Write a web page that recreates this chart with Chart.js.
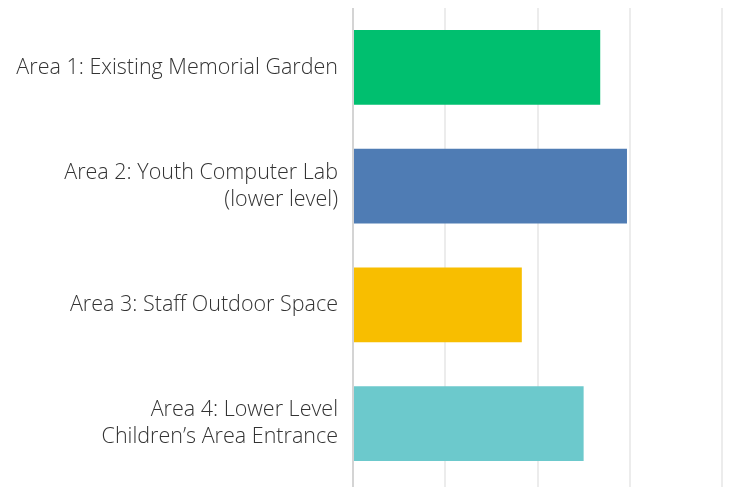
<!DOCTYPE html>
<html>
<head>
<meta charset="utf-8">
<script src="https://cdn.jsdelivr.net/npm/chart.js@4/dist/chart.umd.min.js"></script>
<style>
    html, body { margin: 0; padding: 0; background: #ffffff; }
    #wrap { width: 745px; height: 487px; }
</style>
</head>
<body>
<div id="wrap"><canvas id="areaChart"></canvas></div>
<script>
// Areas (categories), top to bottom
const areaLabels = [
    'Area 1: Existing Memorial Garden',
    ['Area 2: Youth Computer Lab', '(lower level)'],
    'Area 3: Staff Outdoor Space',
    ['Area 4: Lower Level', 'Children\u2019s Area Entrance']
];

// Bar values
const areaValues = [2.68, 2.97, 1.83, 2.5];

const barColors = ['#00bf6f', '#4f7cb4', '#f8be00', '#6cc9cc'];

// x scale
const xMin = 0;
const xMax = 4;
const xStep = 1;

const ctx = document.getElementById('areaChart');

new Chart(ctx, {
    type: 'bar',
    data: {
        labels: areaLabels,
        datasets: [{
            data: areaValues,
            backgroundColor: barColors,
            borderWidth: 0,
            barPercentage: 0.63,
            categoryPercentage: 1
        }]
    },
    options: {
        indexAxis: 'y',
        responsive: true,
        maintainAspectRatio: false,
        animation: false,
        layout: {
            padding: { top: 8, right: 23, left: 0, bottom: 0 }
        },
        plugins: {
            legend: { display: false },
            tooltip: { enabled: false }
        },
        scales: {
            x: {
                min: xMin,
                max: xMax,
                ticks: { display: false, stepSize: xStep },
                border: { display: false },
                grid: {
                    color: function(c) {
                        return c.index === 0 ? '#d4d4d4' : '#ececec';
                    },
                    lineWidth: 2,
                    drawTicks: true,
                    tickLength: 4
                }
            },
            y: {
                grid: { display: false },
                border: { display: false },
                ticks: {
                    color: '#333333',
                    padding: 7,
                    font: { family: '"Open Sans"', size: 21.5, weight: '300', lineHeight: 1.26 }
                },
                afterFit: function(scale) {
                    scale.width = 353;
                    scale.paddingTop = 0;
                    scale.paddingBottom = 0;
                }
            }
        }
    }
});
</script>
</body>
</html>
